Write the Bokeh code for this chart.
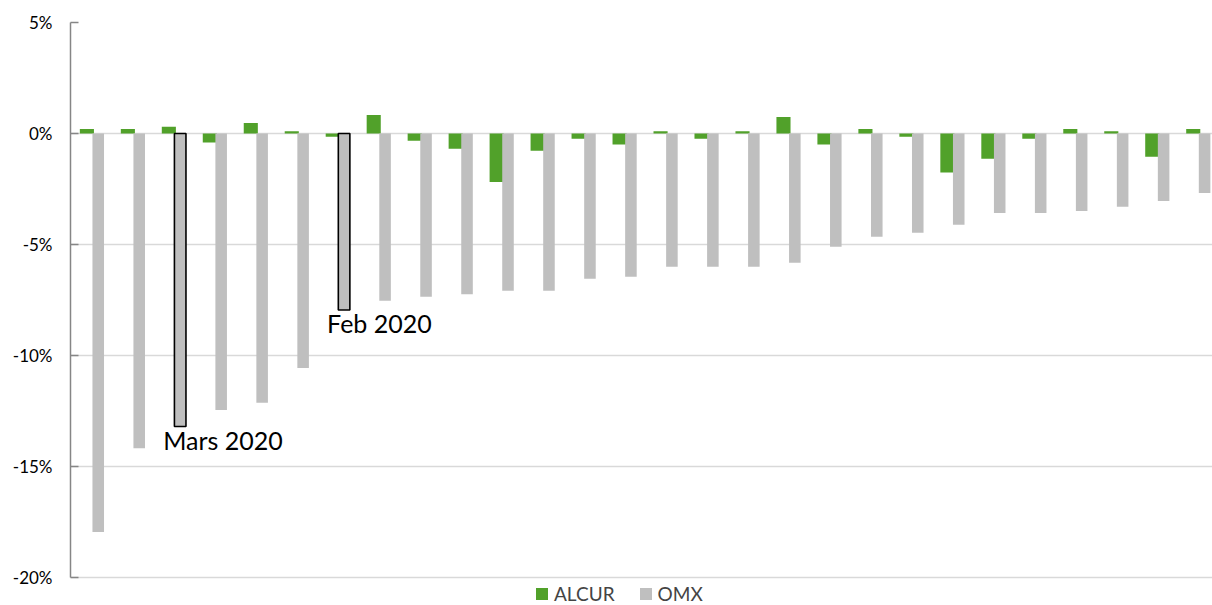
from bokeh.plotting import figure
from bokeh.models import ColumnDataSource, Range1d, FixedTicker, PrintfTickFormatter, Legend, LegendItem
from bokeh.core.properties import value
from bokeh.embed import file_html
from bokeh.resources import INLINE

# ---------------- data ----------------
series_names = ["ALCUR", "OMX"]
alcur = [0.2, 0.2, 0.3, -0.4, 0.47, 0.1, -0.15, 0.83, -0.33, -0.69, -2.18, -0.78, -0.24, -0.5,
         0.1, -0.24, 0.1, 0.74, -0.5, 0.2, -0.15, -1.76, -1.14, -0.24, 0.2, 0.1, -1.05, 0.2]
omx = [-17.95, -14.18, -13.2, -12.45, -12.13, -10.56, -7.95, -7.53, -7.35, -7.24, -7.08, -7.08,
       -6.54, -6.45, -6.0, -6.0, -6.0, -5.82, -5.1, -4.65, -4.47, -4.11, -3.58, -3.58, -3.49,
       -3.3, -3.04, -2.68]
highlight_index = [2, 6]
highlight_labels = ["Mars 2020", "Feb 2020"]
y_ticks = [-20, -15, -10, -5, 0, 5]

# ---------------- style ----------------
GREEN = "#51A12A"
GRAY = "#BFBFBF"
FONT = "Lato"
G_OFF, O_OFF = -0.10, 0.177
G_W, O_W = 0.344, 0.282

idx = list(range(len(omx)))
src_g = ColumnDataSource(dict(x=[i + G_OFF for i in idx], top=alcur))
src_o = ColumnDataSource(dict(x=[i + O_OFF for i in idx], top=omx))
src_h = ColumnDataSource(dict(x=[i + O_OFF for i in highlight_index],
                              top=[omx[i] for i in highlight_index],
                              label=highlight_labels))

p = figure(width=1212, height=605, x_range=Range1d(-0.5, 27.37), y_range=Range1d(-21.26, 5),
           output_backend="svg", toolbar_location=None, x_axis_location=None,
           min_border_left=70, min_border_right=0, min_border_top=22, min_border_bottom=0)
p.outline_line_color = None
p.background_fill_color = "white"

p.yaxis.bounds = (min(y_ticks), max(y_ticks))
p.yaxis.ticker = FixedTicker(ticks=y_ticks)
p.yaxis.formatter = PrintfTickFormatter(format="%d%%")
p.yaxis.axis_line_color = "#868686"
p.yaxis.axis_line_width = 1.5
p.yaxis.major_tick_line_color = "#868686"
p.yaxis.major_tick_line_width = 1.5
p.yaxis.major_tick_in = 8
p.yaxis.major_tick_out = 0
p.yaxis.minor_tick_line_color = None
p.yaxis.major_label_standoff = 18
p.yaxis.major_label_text_font = FONT
p.yaxis.major_label_text_font_size = "17px"
p.yaxis.major_label_text_color = "#000000"

p.ygrid.ticker = FixedTicker(ticks=y_ticks)
p.ygrid.grid_line_color = "#D9D9D9"
p.ygrid.grid_line_width = 1.6
p.xgrid.visible = False

g = p.vbar(x="x", top="top", bottom=0, width=G_W, source=src_g, fill_color=GREEN, line_color=None)
o = p.vbar(x="x", top="top", bottom=0, width=O_W, source=src_o, fill_color=GRAY, line_color=None)
p.vbar(x="x", top="top", bottom=0, width=O_W, source=src_h, fill_color=GRAY,
       line_color="black", line_width=1.6)

p.text(x="x", y="top", text="label", source=src_h, text_font=value(FONT),
       text_font_size="25px", text_align="left", text_baseline="top",
       x_offset=-17, y_offset=-2, text_color="#000000")

legend = Legend(items=[LegendItem(label=series_names[0], renderers=[g]),
                       LegendItem(label=series_names[1], renderers=[o])],
                orientation="horizontal", location=(464, 0), border_line_color=None,
                background_fill_alpha=0, padding=1, margin=0, spacing=23, label_standoff=5,
                glyph_width=15, glyph_height=15, label_height=16,
                label_text_font=FONT, label_text_font_size="19px")
p.add_layout(legend, "center")

open("out.html", "w").write(file_html(p, INLINE))
